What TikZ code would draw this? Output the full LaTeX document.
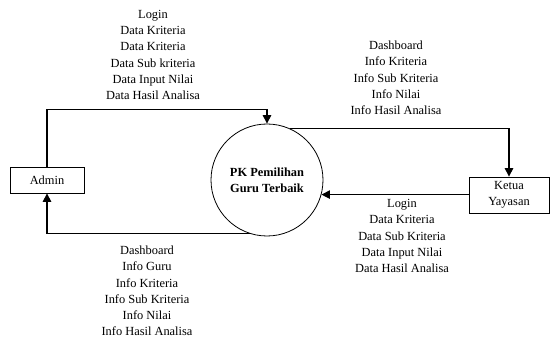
\documentclass[tikz,border=0pt]{standalone}
\usepackage{fontspec}
\setmainfont{Liberation Serif}
\usetikzlibrary{arrows.meta}
\begin{document}
\begin{tikzpicture}[x=1pt,y=-1pt,
  flow/.style={line width=1.1pt,-{Triangle[length=8.5pt,width=8.5pt]}},
  entity/.style={draw,line width=0.8pt,minimum width=74pt,minimum height=26pt,inner sep=0pt},
  proc/.style={draw,circle,line width=0.8pt,minimum size=112pt,inner sep=0pt,font=\bfseries\fontsize{12.4}{16}\selectfont,align=center},
  lbl/.style={align=center,font=\fontsize{12.4}{16.3}\selectfont,inner sep=0pt}]
\useasboundingbox (0,0) rectangle (550,342);

% process and external entities
\node[proc] (p) at (267,180) {PK Pemilihan\\Guru Terbaik};
\node[entity] (admin) at (47,180) {\fontsize{12.4}{14}\selectfont Admin};
\node[entity,minimum width=80pt,minimum height=36pt,align=center,font=\fontsize{12.4}{16.5}\selectfont] (ketua) at (509,195) {Ketua\\Yayasan};

% data flows
\draw[flow] (admin.north) -- ++(0,-57) coordinate (a1) -| (p.north);
\draw[flow] (p.66) -- (p.66 -| ketua.north) -- (ketua.north);
\draw[flow] (ketua.west |- p.-15) -- (p.-15);
\draw[flow] (p.-108) -| (admin.south);

% flow labels
\node[lbl] (l1) at (153,55) {Login\\Data Kriteria\\Data Kriteria\\Data Sub kriteria\\Data Input Nilai\\Data Hasil Analisa};
\node[lbl] (l2) at (396,78) {Dashboard\\Info Kriteria\\Info Sub Kriteria\\Info Nilai\\Info Hasil Analisa};
\node[lbl] (l3) at (402,236) {Login\\Data Kriteria\\Data Sub Kriteria\\Data Input Nilai\\Data Hasil Analisa};
\node[lbl] (l4) at (147,291) {Dashboard\\Info Guru\\Info Kriteria\\Info Sub Kriteria\\Info Nilai\\Info Hasil Analisa};
\end{tikzpicture}
\end{document}
